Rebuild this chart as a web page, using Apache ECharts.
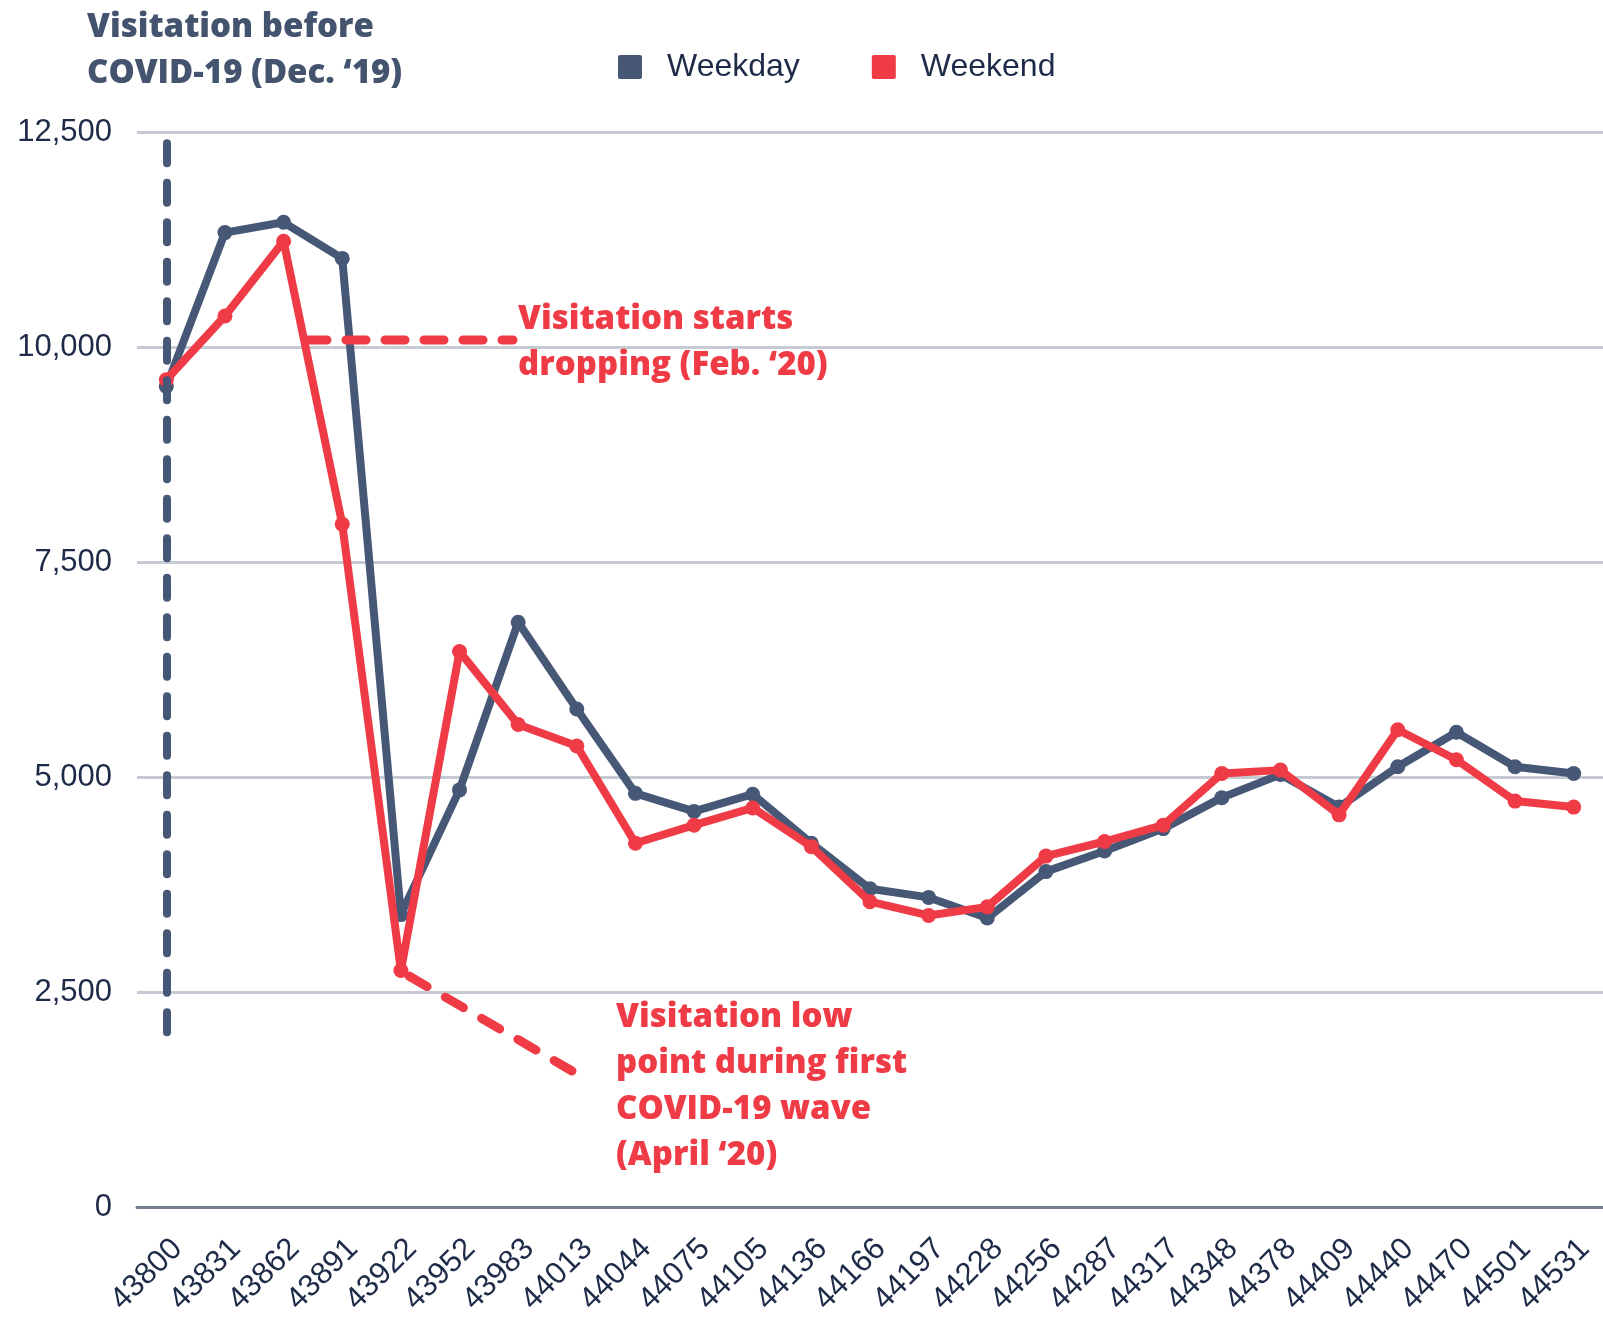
<!DOCTYPE html>
<html>
<head>
<meta charset="utf-8">
<script src="https://cdn.jsdelivr.net/npm/echarts@6/dist/echarts.min.js"></script>
<style>
  html, body { margin: 0; padding: 0; background: #fff; }
  #chart { width: 1603px; height: 1318px; }
</style>
</head>
<body>
<div id="chart"></div>
<script>
// month serials (Excel date numbers), Dec '19 .. Dec '21
const months = ['43800', '43831', '43862', '43891', '43922', '43952', '43983', '44013', '44044',
  '44075', '44105', '44136', '44166', '44197', '44228', '44256', '44287', '44317', '44348',
  '44378', '44409', '44440', '44470', '44501', '44531'];

const weekday = [9540, 11330, 11450, 11030, 3400, 4850, 6800, 5790, 4810, 4600, 4800, 4230,
  3700, 3600, 3360, 3900, 4140, 4400, 4760, 5030, 4650, 5120, 5520, 5120, 5040];

const weekend = [9620, 10360, 11230, 7940, 2750, 6460, 5610, 5360, 4230, 4440, 4640, 4190,
  3550, 3390, 3490, 4080, 4250, 4440, 5040, 5080, 4560, 5550, 5200, 4720, 4650];

const yTicks = [0, 2500, 5000, 7500, 10000, 12500];

const SLATE = '#475877';
const RED = '#ef3b46';
const INK = '#1e2b48';
const NOTE_FONT = '"Open Sans", "Noto Sans", sans-serif';
const AXIS_FONT = '"Liberation Sans", Arial, sans-serif';

var chart = echarts.init(document.getElementById('chart'));

const option = {
  backgroundColor: '#fff',
  animation: false,
  title: {
    text: 'Visitation before\nCOVID-19 (Dec. ‘19)',
    left: 82,
    top: 0,
    textStyle: {
      fontFamily: NOTE_FONT,
      fontWeight: 800,
      fontSize: 33,
      lineHeight: 46,
      color: '#44546f',
    },
  },
  legend: {
    left: 613,
    top: 46,
    itemWidth: 24,
    itemHeight: 24,
    itemGap: 72,
    icon: 'path://M2,0H22Q24,0 24,2V22Q24,24 22,24H2Q0,24 0,22V2Q0,0 2,0Z',
    data: ['Weekday', 'Weekend'],
    textStyle: {
      fontFamily: AXIS_FONT,
      fontSize: 32,
      color: INK,
      padding: [0, 0, 0, 20],
    },
  },
  grid: { left: 137, right: -4, top: 132, bottom: 109 },
  xAxis: {
    type: 'category',
    data: months,
    boundaryGap: true,
    axisLine: { show: true, lineStyle: { color: '#737f8f', width: 3 } },
    axisTick: { show: false },
    axisLabel: {
      rotate: 45,
      margin: 26,
      interval: 0,
      verticalAlign: 'top',
      fontFamily: AXIS_FONT,
      fontSize: 31,
      color: INK,
    },
  },
  yAxis: {
    type: 'value',
    min: yTicks[0],
    max: yTicks[yTicks.length - 1],
    interval: 2500,
    axisLine: { show: false },
    axisTick: { show: false },
    splitLine: { lineStyle: { color: '#c6cbd3', width: 3 } },
    axisLabel: {
      margin: 25,
      fontFamily: AXIS_FONT,
      fontSize: 31,
      color: INK,
      formatter: (v) => v.toLocaleString('en-US'),
    },
  },
  series: [
    {
      name: 'Weekday',
      type: 'line',
      data: weekday,
      symbol: 'circle',
      symbolSize: 15,
      itemStyle: { color: SLATE },
      lineStyle: { color: SLATE, width: 8 },
      z: 3,
      markLine: {
        silent: true,
        symbol: 'none',
        label: { show: false },
        lineStyle: { color: SLATE, width: 8, type: [20, 19.5], cap: 'round' },
        data: [[{ coord: ['43800', 12370] }, { coord: ['43800', 2020] }]],
      },
    },
    {
      name: 'Weekend',
      type: 'line',
      data: weekend,
      symbol: 'circle',
      symbolSize: 15,
      itemStyle: { color: RED },
      lineStyle: { color: RED, width: 8 },
      z: 4,
    },
  ],
  graphic: [
    // Feb '20 callout
    {
      type: 'line',
      shape: { x1: 307, y1: 340, x2: 513, y2: 340 },
      style: { stroke: RED, lineWidth: 9, lineDash: [20, 19], lineCap: 'round' },
      z: 10,
    },
    {
      type: 'text',
      left: 518,
      top: 297,
      style: {
        text: 'Visitation starts\ndropping (Feb. ‘20)',
        font: '800 33px ' + NOTE_FONT,
        lineHeight: 46,
        fill: RED,
      },
      z: 10,
    },
    // April '20 callout
    {
      type: 'line',
      shape: { x1: 409, y1: 976, x2: 572, y2: 1071 },
      style: { stroke: RED, lineWidth: 9, lineDash: [21, 21], lineCap: 'round' },
      z: 10,
    },
    {
      type: 'text',
      left: 616,
      top: 995,
      style: {
        text: 'Visitation low\npoint during first\nCOVID-19 wave\n(April ‘20)',
        font: '800 33px ' + NOTE_FONT,
        lineHeight: 46,
        fill: RED,
      },
      z: 10,
    },
  ],
};

chart.setOption(option);
</script>
</body>
</html>
